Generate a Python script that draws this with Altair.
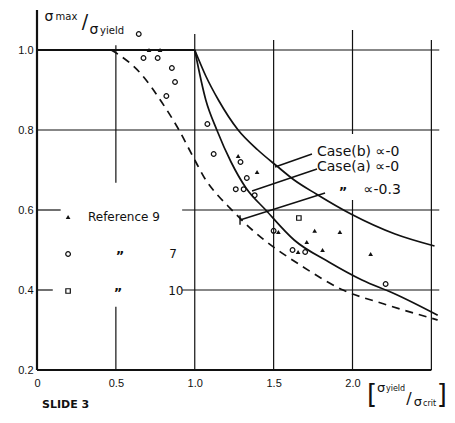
import altair as alt
import pandas as pd

INK = "#111111"

# ---- curves ----
plateau_x = [0.0, 1.0]
plateau_y = [1.0, 1.0]
case_b_x = [1.0, 1.07, 1.15, 1.275, 1.40, 1.52, 1.63, 1.77, 1.99, 2.27, 2.52]
case_b_y = [1.0, 0.935, 0.875, 0.80, 0.75, 0.71, 0.675, 0.64, 0.59, 0.54, 0.51]
case_a_x = [1.0, 1.07, 1.14, 1.23, 1.325, 1.45, 1.63, 1.85, 2.06, 2.27, 2.54]
case_a_y = [1.0, 0.875, 0.80, 0.72, 0.655, 0.60, 0.525, 0.47, 0.425, 0.39, 0.337]
alpha03_x = [0.47, 0.50, 0.66, 0.79, 0.90, 1.00, 1.07, 1.15, 1.21, 1.365, 1.69, 1.94, 2.20, 2.54]
alpha03_y = [1.0, 0.993, 0.94, 0.87, 0.80, 0.725, 0.675, 0.635, 0.61, 0.55, 0.457, 0.40, 0.365, 0.325]

# ---- experimental points ----
ref9_x = [0.71, 0.78, 1.275, 1.395, 1.53, 1.76, 1.92, 1.71, 1.81, 1.655, 2.115]
ref9_y = [1.0, 1.0, 0.735, 0.695, 0.545, 0.548, 0.545, 0.52, 0.50, 0.495, 0.49]
ref7_x = [0.645, 0.675, 0.765, 0.855, 0.875, 0.82, 1.08, 1.12, 1.29, 1.33, 1.26, 1.31, 1.38, 1.50, 1.62, 1.70, 2.21]
ref7_y = [1.04, 0.98, 0.98, 0.955, 0.92, 0.885, 0.815, 0.74, 0.72, 0.68, 0.652, 0.652, 0.637, 0.548, 0.50, 0.495, 0.415]
ref10_x = [1.66]
ref10_y = [0.58]

# ---- tick labels ----
x_ticks = [0, 0.5, 1.0, 1.5, 2.0]
y_ticks = [0.2, 0.4, 0.6, 0.8, 1.0]

# ---- grid segments (with gaps where the slide leaves room for text) ----
grid = pd.DataFrame([
    dict(x=0.0, x2=2.55, y=1.0, y2=1.0),
    dict(x=0.0, x2=2.55, y=0.8, y2=0.8),
    dict(x=0.0, x2=0.15, y=0.6, y2=0.6),
    dict(x=0.92, x2=2.55, y=0.6, y2=0.6),
    dict(x=0.0, x2=0.10, y=0.4, y2=0.4),
    dict(x=0.92, x2=2.55, y=0.4, y2=0.4),
    dict(x=0.5, x2=0.5, y=1.012, y2=0.668),
    dict(x=0.5, x2=0.5, y=0.358, y2=0.2),
    dict(x=1.0, x2=1.0, y=1.04, y2=0.2),
    dict(x=1.5, x2=1.5, y=1.025, y2=0.2),
    dict(x=2.0, x2=2.0, y=1.05, y2=0.79),
    dict(x=2.0, x2=2.0, y=0.625, y2=0.2),
    dict(x=2.5, x2=2.5, y=1.025, y2=0.2),
])
axes_lines = pd.DataFrame([
    dict(x=0.0, x2=0.0, y=0.2, y2=1.1),
    dict(x=0.0, x2=2.5, y=0.2, y2=0.2),
])
leaders = pd.DataFrame([
    dict(x=1.743, x2=1.509, y=0.74, y2=0.7075),
    dict(x=1.775, x2=1.363, y=0.7025, y2=0.6475),
    dict(x=1.826, x2=1.287, y=0.6425, y2=0.575),
    dict(x=1.287, x2=1.287, y=0.587, y2=0.563),
])

xs = alt.Scale(domain=[0, 2.58], nice=False, zero=False)
ys = alt.Scale(domain=[0.2, 1.1], nice=False, zero=False)
x_axis = alt.Axis(values=x_ticks, labelExpr="datum.value == 0 ? '0' : format(datum.value, '.1f')",
                  domain=False, ticks=False, grid=False, labelPadding=7, labelFontSize=11,
                  labelFont="Liberation Sans", labelColor=INK, title=None, labelFlush=False)
y_axis = alt.Axis(values=y_ticks, format=".1f", domain=False, ticks=False, grid=False,
                  labelPadding=4, labelFontSize=11, labelFont="Liberation Sans",
                  labelColor=INK, title=None)
X = alt.X("x:Q", scale=xs, axis=x_axis)
Y = alt.Y("y:Q", scale=ys, axis=y_axis)


def rules(df, width):
    return alt.Chart(df).mark_rule(color=INK, strokeWidth=width).encode(
        x=X, y=Y, x2="x2:Q", y2="y2:Q")


def line(xv, yv, width, dash=None):
    kw = dict(color=INK, strokeWidth=width, interpolate="monotone")
    if dash:
        kw["strokeDash"] = dash
    return alt.Chart(pd.DataFrame({"x": xv, "y": yv})).mark_line(**kw).encode(x=X, y=Y)


def pts(xv, yv, shape, filled, size):
    return alt.Chart(pd.DataFrame({"x": xv, "y": yv})).mark_point(
        shape=shape, filled=filled, size=size, color=INK, strokeWidth=1.2, opacity=1
    ).encode(x=X, y=Y)


def texts(rows, align, font="Liberation Sans", weight="normal"):
    df = pd.DataFrame(rows, columns=["x", "y", "t", "s"])
    return alt.Chart(df).mark_text(align=align, baseline="middle", font=font,
                                   fontWeight=weight, color=INK).encode(
        x=X, y=Y, text="t:N", size=alt.Size("s:Q", scale=None, legend=None))


legend_pts_tri = pts([0.197], [0.5825], "triangle-up", True, 22)
legend_pts_cir = pts([0.197], [0.49], "circle", False, 22)
legend_pts_sq = pts([0.197], [0.3975], "square", False, 20)

left_texts = texts([
    (0.323, 0.5825, "Reference 9", 12),
    (1.775, 0.745, "Case(b) \u221d-0", 14),
    (1.775, 0.708, "Case(a) \u221d-0", 14),
    (2.07, 0.65, "\u221d-0.3", 14),
    (0.118, 1.083, "max", 10),
    (0.40, 1.047, "yield", 10),
    (2.212, 0.152, "yield", 8),
    (2.447, 0.115, "crit", 8),
], "left", font="DejaVu Sans")
center_texts = texts([
    (0.862, 0.49, "7", 12),
    (0.88, 0.3975, "10", 12),
    (0.076, 1.083, "\u03c3", 14),
    (0.304, 1.07, "/", 19),
    (0.361, 1.05, "\u03c3", 14),
    (2.124, 0.1375, "[", 26),
    (2.181, 0.155, "\u03c3", 13),
    (2.358, 0.127, "/", 16),
    (2.415, 0.12, "\u03c3", 13),
    (2.567, 0.1375, "]", 26),
], "center", font="DejaVu Sans")
ditto = texts([
    (0.526, 0.485, "\u201d", 13),
    (0.513, 0.3925, "\u201d", 13),
    (1.94, 0.645, "\u201d", 13),
], "center", font="DejaVu Sans", weight="bold")
slide = texts([(0.032, 0.1125, "SLIDE 3", 11)], "left", font="DejaVu Sans", weight="bold")

chart = alt.layer(
    rules(grid, 1.2),
    rules(axes_lines, 2.2),
    line(plateau_x, plateau_y, 2.2),
    line(case_b_x, case_b_y, 1.7),
    line(case_a_x, case_a_y, 1.7),
    line(alpha03_x, alpha03_y, 1.7, dash=[8, 6]),
    rules(leaders, 1.4),
    pts(ref9_x, ref9_y, "triangle-up", True, 22),
    pts(ref7_x, ref7_y, "circle", False, 22),
    pts(ref10_x, ref10_y, "square", False, 20),
    legend_pts_tri, legend_pts_cir, legend_pts_sq,
    left_texts, center_texts, ditto, slide,
).properties(
    width=407, height=360,
    autosize=alt.AutoSizeParams(type="none"),
    padding={"left": 29, "top": 2, "right": 3, "bottom": 42},
    background="white",
).configure_view(stroke=None)

chart.save("out.html", embed_options={"renderer": "svg", "actions": False})
